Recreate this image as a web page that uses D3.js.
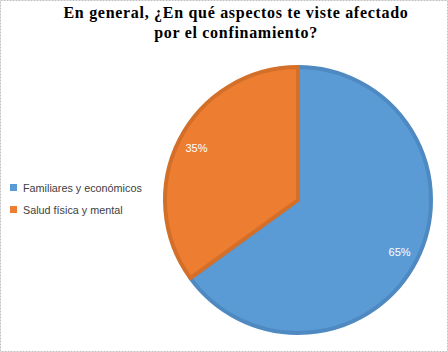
<!DOCTYPE html>
<html lang="es">
<head>
    <meta charset="UTF-8">
    <title>Confinamiento</title>
    <script src="https://d3js.org/d3.v7.min.js"></script>
    <style>
        body { margin: 0; padding: 0; background: #fff; }
        svg { display: block; }
        .title { font-family: "Liberation Serif", "Times New Roman", serif; font-weight: bold; font-size: 16px; letter-spacing: 0.7px; fill: #000; }
        .legend text { font-family: "Liberation Sans", Arial, sans-serif; font-size: 10.8px; fill: #404040; }
        .pct { font-family: "Liberation Sans", Arial, sans-serif; font-size: 11px; fill: #fff; }
    </style>
</head>
<body>
<svg width="448" height="352"></svg>
<script>
    // chart data
    const categories = ["Familiares y económicos", "Salud física y mental"];
    const values = [65, 35];
    const colors = ["#5b9bd5", "#ed7d31"];
    const strokes = ["#4e89c1", "#d46f29"];
    const titleLines = ["En general, ¿En qué aspectos te viste afectado", "por el confinamiento?"];

    const data = categories.map((c, i) => ({ name: c, value: values[i], color: colors[i], stroke: strokes[i] }));

    const svg = d3.select("svg");
    const width = 448, height = 352;

    // frame
    svg.append("rect")
        .attr("x", 0.5).attr("y", 0.5)
        .attr("width", width - 1).attr("height", height - 1)
        .attr("fill", "#fff")
        .attr("stroke", "#bfbfbf")
        .attr("stroke-dasharray", "2,1");

    svg.append("text")
        .attr("class", "title")
        .attr("text-anchor", "middle")
        .selectAll("tspan")
        .data(titleLines)
        .join("tspan")
        .attr("x", 236)
        .attr("y", (d, i) => 18 + i * 20)
        .text(d => d);

    const cx = 298, cy = 200, r = 135;
    const g = svg.append("g").attr("transform", `translate(${cx},${cy})`);

    const pie = d3.pie().value(d => d.value).sort(null);
    const arcs = pie(data);
    const arc = d3.arc().innerRadius(0).outerRadius(r - 2);
    const labelArc = d3.arc().innerRadius(114).outerRadius(114);

    g.selectAll("path")
        .data(arcs)
        .join("path")
        .attr("d", arc)
        .attr("fill", d => d.data.color)
        .attr("stroke", d => d.data.stroke)
        .attr("stroke-width", 4)
        .attr("stroke-linejoin", "round");

    const total = d3.sum(values);
    g.selectAll("text.pct")
        .data(arcs)
        .join("text")
        .attr("class", "pct")
        .attr("text-anchor", "middle")
        .attr("dy", "0.35em")
        .attr("transform", d => `translate(${labelArc.centroid(d)})`)
        .text(d => Math.round(d.data.value / total * 100) + "%");

    const legend = svg.append("g").attr("class", "legend");
    const items = legend.selectAll("g")
        .data(data)
        .join("g")
        .attr("transform", (d, i) => `translate(10,${184 + i * 22})`);
    items.append("rect")
        .attr("width", 7).attr("height", 7)
        .attr("fill", d => d.color);
    items.append("text")
        .attr("x", 13).attr("y", 7.5)
        .text(d => d.name);
</script>
</body>
</html>
